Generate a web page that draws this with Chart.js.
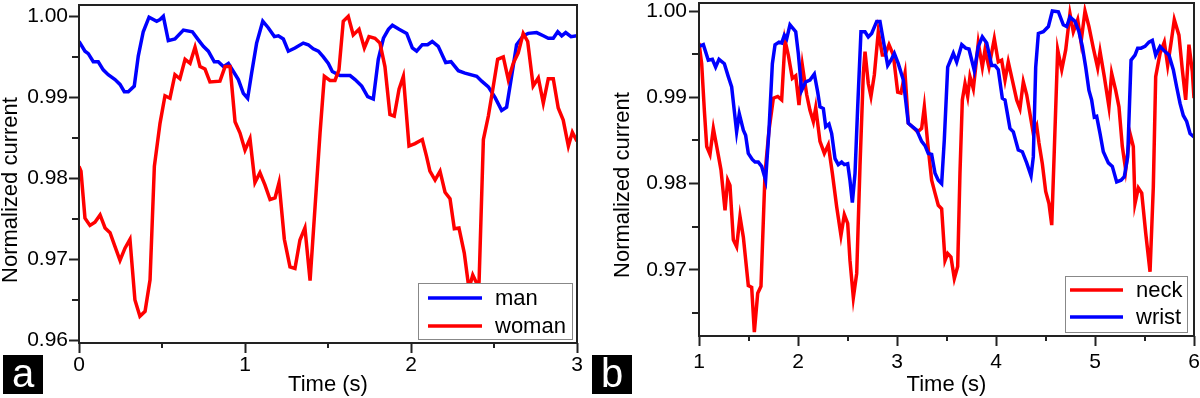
<!DOCTYPE html>
<html>
<head>
<meta charset="utf-8">
<script src="https://cdn.jsdelivr.net/npm/chart.js@4.4.0/dist/chart.umd.min.js"></script>
<style>
  body { margin: 0; background: #fff; width: 1200px; height: 398px; overflow: hidden; position: relative; font-family: "Liberation Sans", Arial, sans-serif; }
  .panel { position: absolute; top: 0; width: 600px; height: 398px; }
  .tag { position: absolute; top: 355px; width: 40px; height: 39px; background: #000; color: #fff; font-size: 40px; line-height: 37px; text-align: center; }
</style>
</head>
<body>
<div class="panel" style="left:0"><canvas id="chartA" width="600" height="398" style="width:600px;height:398px"></canvas></div>
<div class="panel" style="left:600px"><canvas id="chartB" width="600" height="398" style="width:600px;height:398px"></canvas></div>
<div class="tag" style="left:3px">a</div>
<div class="tag" style="left:592px">b</div>
<script>
// ---- panel a : man / woman ----
const manTime = [0, 0.036, 0.056, 0.086, 0.116, 0.146, 0.176, 0.217, 0.247, 0.273, 0.297, 0.333, 0.357, 0.387, 0.422, 0.468, 0.488, 0.508, 0.538, 0.578,
  0.629, 0.683, 0.719, 0.749, 0.779, 0.815, 0.839, 0.870, 0.900, 0.930, 0.960, 0.990, 1.016, 1.040, 1.070, 1.107, 1.140, 1.177, 1.201, 1.231,
  1.261, 1.301, 1.351, 1.381, 1.411, 1.442, 1.472, 1.502, 1.526, 1.572, 1.633, 1.663, 1.703, 1.739, 1.773, 1.803, 1.834, 1.864, 1.888, 1.928,
  1.974, 2.008, 2.034, 2.068, 2.100, 2.128, 2.164, 2.209, 2.241, 2.285, 2.325, 2.396, 2.426, 2.466, 2.506, 2.546, 2.576, 2.606, 2.636, 2.676,
  2.706, 2.757, 2.797, 2.827, 2.857, 2.884, 2.908, 2.932, 2.964, 3.0];
const manCurrent = [0.9969, 0.9957, 0.9954, 0.9944, 0.9944, 0.9934, 0.9928, 0.9922, 0.9916, 0.9907, 0.9907, 0.9914, 0.9951, 0.9981, 0.9999, 0.9994, 0.9996, 1.0000, 0.9970, 0.9972,
  0.9983, 0.9981, 0.9971, 0.9963, 0.9957, 0.9944, 0.9944, 0.9938, 0.9942, 0.9932, 0.9922, 0.9905, 0.9899, 0.9930, 0.9967, 0.9994, 0.9986, 0.9975, 0.9976, 0.9972,
  0.9957, 0.9961, 0.9967, 0.9965, 0.9960, 0.9957, 0.9950, 0.9942, 0.9932, 0.9927, 0.9927, 0.9922, 0.9914, 0.9901, 0.9898, 0.9947, 0.9973, 0.9984, 0.9989, 0.9984,
  0.9979, 0.9961, 0.9957, 0.9965, 0.9965, 0.9969, 0.9963, 0.9943, 0.9944, 0.9933, 0.9930, 0.9926, 0.9920, 0.9913, 0.9900, 0.9884, 0.9888, 0.9926, 0.9965, 0.9976,
  0.9979, 0.9980, 0.9976, 0.9973, 0.9973, 0.9981, 0.9976, 0.9980, 0.9975, 0.9976];

const womanTime = [0, 0.012, 0.036, 0.066, 0.096, 0.127, 0.157, 0.187, 0.217, 0.247, 0.277, 0.307, 0.337, 0.367, 0.398, 0.428, 0.454, 0.488, 0.518, 0.548,
  0.578, 0.608, 0.639, 0.669, 0.699, 0.729, 0.759, 0.789, 0.849, 0.880, 0.910, 0.940, 0.970, 1.000, 1.030, 1.060, 1.090, 1.120, 1.151, 1.181,
  1.205, 1.237, 1.271, 1.301, 1.331, 1.361, 1.392, 1.422, 1.452, 1.478, 1.512, 1.542, 1.566, 1.592, 1.622, 1.652, 1.687, 1.719, 1.747, 1.783,
  1.813, 1.843, 1.873, 1.899, 1.928, 1.954, 1.988, 2.024, 2.068, 2.094, 2.114, 2.145, 2.175, 2.205, 2.235, 2.261, 2.289, 2.321, 2.349, 2.372,
  2.402, 2.410, 2.436, 2.466, 2.496, 2.522, 2.556, 2.586, 2.616, 2.646, 2.676, 2.703, 2.736, 2.767, 2.797, 2.827, 2.857, 2.887, 2.917, 2.948,
  2.972, 3.0];
const womanCurrent = [0.9815, 0.9809, 0.9751, 0.9742, 0.9746, 0.9755, 0.9739, 0.9733, 0.9716, 0.9699, 0.9714, 0.9725, 0.9650, 0.9630, 0.9636, 0.9675, 0.9815, 0.9868, 0.9902, 0.9899,
  0.9928, 0.9923, 0.9947, 0.9942, 0.9962, 0.9938, 0.9935, 0.9919, 0.9920, 0.9938, 0.9938, 0.9870, 0.9856, 0.9835, 0.9849, 0.9795, 0.9807, 0.9792, 0.9774, 0.9776,
  0.9795, 0.9725, 0.9691, 0.9689, 0.9724, 0.9739, 0.9674, 0.9765, 0.9856, 0.9926, 0.9921, 0.9921, 0.9934, 0.9994, 1.0000, 0.9977, 0.9984, 0.9961, 0.9975, 0.9973,
  0.9967, 0.9938, 0.9879, 0.9877, 0.9910, 0.9926, 0.9840, 0.9843, 0.9848, 0.9827, 0.9809, 0.9798, 0.9809, 0.9783, 0.9775, 0.9738, 0.9739, 0.9708, 0.9664, 0.9681,
  0.9668, 0.9672, 0.9848, 0.9877, 0.9914, 0.9947, 0.9950, 0.9922, 0.9942, 0.9955, 0.9979, 0.9969, 0.9914, 0.9924, 0.9893, 0.9923, 0.9923, 0.9887, 0.9872, 0.9840,
  0.9857, 0.9846];

// ---- panel b : neck / wrist ----
const neckTime = [1.000, 1.027, 1.054, 1.078, 1.111, 1.145, 1.179, 1.222, 1.263, 1.290, 1.313, 1.347, 1.380, 1.414, 1.448, 1.498, 1.532, 1.559, 1.593, 1.626,
  1.667, 1.707, 1.751, 1.795, 1.835, 1.869, 1.902, 1.943, 1.977, 2.010, 2.044, 2.088, 2.121, 2.155, 2.179, 2.222, 2.266, 2.306, 2.347, 2.391,
  2.434, 2.468, 2.502, 2.525, 2.559, 2.593, 2.626, 2.660, 2.677, 2.710, 2.737, 2.771, 2.811, 2.852, 2.879, 2.919, 2.963, 3.007, 3.040, 3.081,
  3.114, 3.155, 3.209, 3.249, 3.276, 3.310, 3.350, 3.384, 3.417, 3.451, 3.485, 3.512, 3.545, 3.579, 3.613, 3.636, 3.660, 3.687, 3.714, 3.737,
  3.771, 3.795, 3.821, 3.862, 3.889, 3.929, 3.983, 4.023, 4.057, 4.091, 4.124, 4.165, 4.209, 4.242, 4.276, 4.310, 4.343, 4.377, 4.411, 4.434,
  4.468, 4.502, 4.535, 4.563, 4.589, 4.623, 4.664, 4.704, 4.747, 4.781, 4.825, 4.859, 4.899, 4.939, 4.983, 5.027, 5.051, 5.094, 5.141, 5.168,
  5.209, 5.242, 5.276, 5.310, 5.354, 5.387, 5.404, 5.438, 5.472, 5.513, 5.556, 5.589, 5.613, 5.657, 5.700, 5.734, 5.768, 5.801, 5.848, 5.882,
  5.916, 5.949, 5.983, 6.0];
const neckCurrent = [0.9963, 0.9939, 0.9885, 0.9843, 0.9834, 0.9864, 0.9843, 0.9816, 0.9769, 0.9804, 0.9798, 0.9735, 0.9727, 0.9762, 0.9738, 0.9682, 0.9680, 0.9628, 0.9673, 0.9681,
  0.9812, 0.9862, 0.9899, 0.9901, 0.9897, 0.9966, 0.9949, 0.9922, 0.9925, 0.9891, 0.9937, 0.9903, 0.9885, 0.9872, 0.9888, 0.9849, 0.9835, 0.9845, 0.9812, 0.9773,
  0.9740, 0.9764, 0.9754, 0.9711, 0.9668, 0.9696, 0.9820, 0.9928, 0.9953, 0.9916, 0.9901, 0.9926, 0.9976, 0.9949, 0.9949, 0.9961, 0.9949, 0.9906, 0.9905, 0.9928,
  0.9870, 0.9866, 0.9860, 0.9864, 0.9889, 0.9847, 0.9804, 0.9789, 0.9775, 0.9771, 0.9711, 0.9719, 0.9715, 0.9690, 0.9704, 0.9812, 0.9897, 0.9916, 0.9901, 0.9924,
  0.9910, 0.9935, 0.9963, 0.9935, 0.9955, 0.9935, 0.9968, 0.9941, 0.9943, 0.9920, 0.9941, 0.9920, 0.9897, 0.9887, 0.9918, 0.9903, 0.9881, 0.9858, 0.9867, 0.9847,
  0.9823, 0.9791, 0.9777, 0.9752, 0.9839, 0.9955, 0.9932, 0.9955, 0.9997, 0.9976, 0.9990, 0.9964, 1.0000, 0.9982, 0.9957, 0.9934, 0.9953, 0.9924, 0.9889, 0.9928,
  0.9908, 0.9889, 0.9843, 0.9816, 0.9858, 0.9843, 0.9777, 0.9795, 0.9789, 0.9742, 0.9698, 0.9796, 0.9924, 0.9951, 0.9964, 0.9937, 0.9963, 0.9990, 0.9972, 0.9932,
  0.9897, 0.9961, 0.9930, 0.9899];

const wristTime = [1.000, 1.044, 1.094, 1.135, 1.168, 1.202, 1.256, 1.296, 1.330, 1.380, 1.407, 1.448, 1.471, 1.498, 1.538, 1.566, 1.599, 1.633, 1.673, 1.707,
  1.741, 1.768, 1.808, 1.835, 1.862, 1.886, 1.919, 1.977, 2.003, 2.037, 2.078, 2.121, 2.165, 2.199, 2.222, 2.256, 2.280, 2.313, 2.340, 2.374,
  2.407, 2.441, 2.468, 2.502, 2.525, 2.549, 2.576, 2.603, 2.636, 2.677, 2.710, 2.744, 2.795, 2.828, 2.872, 2.906, 2.939, 2.973, 3.013, 3.064,
  3.114, 3.155, 3.199, 3.249, 3.283, 3.316, 3.350, 3.384, 3.417, 3.451, 3.478, 3.512, 3.569, 3.603, 3.654, 3.694, 3.727, 3.781, 3.822, 3.862,
  3.906, 3.956, 3.990, 4.023, 4.064, 4.091, 4.141, 4.175, 4.225, 4.266, 4.310, 4.354, 4.377, 4.401, 4.428, 4.478, 4.529, 4.569, 4.630, 4.680,
  4.714, 4.747, 4.798, 4.838, 4.872, 4.906, 4.939, 4.966, 4.993, 5.017, 5.051, 5.084, 5.135, 5.175, 5.219, 5.263, 5.296, 5.330, 5.364, 5.404,
  5.431, 5.465, 5.505, 5.545, 5.579, 5.613, 5.657, 5.707, 5.747, 5.791, 5.825, 5.859, 5.892, 5.926, 5.960, 6.0];
const wristCurrent = [0.9959, 0.9961, 0.9943, 0.9944, 0.9935, 0.9944, 0.9939, 0.9924, 0.9912, 0.9860, 0.9881, 0.9862, 0.9856, 0.9835, 0.9828, 0.9825, 0.9825, 0.9820, 0.9804, 0.9862,
  0.9939, 0.9961, 0.9964, 0.9963, 0.9972, 0.9968, 0.9984, 0.9976, 0.9951, 0.9908, 0.9918, 0.9920, 0.9927, 0.9906, 0.9889, 0.9887, 0.9866, 0.9869, 0.9858, 0.9829,
  0.9822, 0.9825, 0.9822, 0.9823, 0.9804, 0.9778, 0.9812, 0.9889, 0.9976, 0.9976, 0.9970, 0.9974, 0.9988, 0.9988, 0.9959, 0.9937, 0.9943, 0.9951, 0.9939, 0.9920,
  0.9870, 0.9866, 0.9862, 0.9849, 0.9844, 0.9835, 0.9834, 0.9812, 0.9804, 0.9800, 0.9851, 0.9935, 0.9951, 0.9941, 0.9961, 0.9957, 0.9956, 0.9931, 0.9959, 0.9970,
  0.9963, 0.9937, 0.9937, 0.9932, 0.9899, 0.9897, 0.9864, 0.9860, 0.9839, 0.9837, 0.9824, 0.9809, 0.9831, 0.9935, 0.9974, 0.9976, 0.9982, 1.0000, 0.9999, 0.9984,
  0.9982, 0.9993, 0.9988, 0.9976, 0.9959, 0.9935, 0.9908, 0.9897, 0.9877, 0.9878, 0.9858, 0.9837, 0.9824, 0.9820, 0.9802, 0.9804, 0.9808, 0.9831, 0.9943, 0.9949,
  0.9957, 0.9957, 0.9959, 0.9964, 0.9966, 0.9949, 0.9959, 0.9953, 0.9949, 0.9932, 0.9912, 0.9893, 0.9879, 0.9872, 0.9858, 0.9854];

// tick values
const xTicksA = [0, 0.5, 1, 1.5, 2, 2.5, 3];
const yTicksA = [0.96, 0.965, 0.97, 0.975, 0.98, 0.985, 0.99, 0.995, 1.0];
const xTicksB = [1, 1.5, 2, 2.5, 3, 3.5, 4, 4.5, 5, 5.5, 6];
const yTicksB = [0.965, 0.97, 0.975, 0.98, 0.985, 0.99, 0.995, 1.0];

const FONT = '"Liberation Sans", Arial, sans-serif';
Chart.defaults.font.family = FONT;
Chart.defaults.color = '#000';

function toPoints(t, v) {
  return t.map((x, i) => ({ x: x, y: v[i] }));
}

const isMajorX = v => Number.isInteger(v);
const isMajorY = v => Math.abs(v * 100 - Math.round(v * 100)) < 1e-6;

// box round the plot + short minor ticks
const framePlugin = {
  id: 'frame',
  afterDraw(chart) {
    const { ctx, chartArea: a, scales } = chart;
    ctx.save();
    ctx.strokeStyle = '#222';
    ctx.lineWidth = 2;
    ctx.strokeRect(a.left, a.top, a.right - a.left, a.bottom - a.top);
    ctx.beginPath();
    scales.x.ticks.forEach(t => {
      if (isMajorX(t.value)) return;
      const px = Math.round(scales.x.getPixelForValue(t.value));
      ctx.moveTo(px, a.bottom); ctx.lineTo(px, a.bottom + 5);
    });
    scales.y.ticks.forEach(t => {
      if (isMajorY(t.value)) return;
      const py = Math.round(scales.y.getPixelForValue(t.value));
      ctx.moveTo(a.left - 7, py); ctx.lineTo(a.left, py);
    });
    ctx.stroke();
    ctx.restore();
  }
};

// legend drawn inside the plot, Origin style
const boxLegend = {
  id: 'boxLegend',
  afterDraw(chart, args, o) {
    const ctx = chart.ctx;
    ctx.save();
    ctx.fillStyle = '#fff';
    ctx.fillRect(o.x, o.y, o.w, o.h);
    ctx.strokeStyle = '#888';
    ctx.lineWidth = 1;
    ctx.strokeRect(o.x + 0.5, o.y + 0.5, o.w, o.h);
    ctx.font = '22px ' + FONT;
    ctx.textBaseline = 'middle';
    chart.data.datasets.forEach((ds, i) => {
      const y = o.rowY[i];
      ctx.strokeStyle = ds.borderColor;
      ctx.lineWidth = 3.5;
      ctx.beginPath();
      ctx.moveTo(o.lineX[0], y);
      ctx.lineTo(o.lineX[1], y);
      ctx.stroke();
      ctx.fillStyle = '#000';
      ctx.fillText(ds.label, o.textX, y + 1);
    });
    ctx.restore();
  }
};

// rotated y title
const yTitle = {
  id: 'yTitle',
  afterDraw(chart, args, o) {
    const ctx = chart.ctx;
    ctx.save();
    ctx.translate(o.x, o.y);
    ctx.rotate(-Math.PI / 2);
    ctx.font = '22px ' + FONT;
    ctx.fillStyle = '#000';
    ctx.textAlign = 'center';
    ctx.textBaseline = 'middle';
    ctx.fillText(o.text, 0, 0);
    ctx.restore();
  }
};

function makeChart(id, datasets, cfg) {
  return new Chart(document.getElementById(id), {
    type: 'line',
    data: { datasets: datasets },
    options: {
      responsive: false,
      animation: false,
      devicePixelRatio: 1,
      layout: { padding: cfg.padding },
      plugins: {
        legend: { display: false },
        tooltip: { enabled: false },
        boxLegend: cfg.legend,
        yTitle: cfg.yTitle
      },
      scales: {
        x: {
          type: 'linear',
          min: cfg.xMin, max: cfg.xMax,
          afterBuildTicks: s => { s.ticks = cfg.xTicks.map(v => ({ value: v })); },
          afterFit: s => { s.height = cfg.xAxisH; s.paddingLeft = 0; s.paddingRight = 0; },
          border: { display: false },
          grid: { drawOnChartArea: false, drawTicks: true, tickLength: 10, tickWidth: 2,
            tickColor: c => isMajorX(c.tick.value) ? '#222' : 'rgba(0,0,0,0)' },
          ticks: { font: { size: 21 }, padding: cfg.xPad, maxRotation: 0, autoSkip: false,
            callback: v => isMajorX(v) ? String(v) : '' },
          title: { display: true, text: 'Time (s)', font: { size: 22 }, padding: 0 }
        },
        y: {
          min: cfg.yMin, max: cfg.yMax,
          afterBuildTicks: s => { s.ticks = cfg.yTicks.map(v => ({ value: v })); },
          afterFit: s => { s.width = cfg.yAxisW; s.paddingTop = 0; s.paddingBottom = 0; },
          border: { display: false },
          grid: { drawOnChartArea: false, drawTicks: true, tickLength: 10, tickWidth: 2,
            tickColor: c => isMajorY(c.tick.value) ? '#222' : 'rgba(0,0,0,0)' },
          ticks: { font: { size: 21 }, padding: cfg.yPad, autoSkip: false,
            callback: v => isMajorY(v) ? v.toFixed(2) : '' }
        }
      }
    },
    plugins: [framePlugin, boxLegend, yTitle]
  });
}

function line(label, t, v, color, order) {
  return { label: label, data: toPoints(t, v), borderColor: color, backgroundColor: color,
    borderWidth: 3.5, pointRadius: 0, tension: 0, fill: false, order: order };
}

makeChart('chartA', [
  line('man', manTime, manCurrent, '#0000ff', 1),
  line('woman', womanTime, womanCurrent, '#ff0000', 0)
], {
  padding: { top: 5, right: 23, left: 0, bottom: 0 },
  xMin: 0, xMax: 3, yMin: 0.9597, yMax: 1.0014,
  xTicks: xTicksA, yTicks: yTicksA, xAxisH: 55, yAxisW: 79, xPad: 0, yPad: 1,
  legend: { x: 418, y: 283, w: 154, h: 56, rowY: [298, 326], lineX: [428, 482], textX: 495 },
  yTitle: { text: 'Normalized current', x: 11, y: 190 }
});

makeChart('chartB', [
  line('neck', neckTime, neckCurrent, '#ff0000', 1),
  line('wrist', wristTime, wristCurrent, '#0000ff', 0)
], {
  padding: { top: 3, right: 6, left: 0, bottom: 0 },
  xMin: 1, xMax: 6, yMin: 0.96235, yMax: 1.00093,
  xTicks: xTicksB, yTicks: yTicksB, xAxisH: 62, yAxisW: 99, xPad: 4, yPad: 2,
  legend: { x: 465, y: 276, w: 122, h: 56, rowY: [290, 317], lineX: [470, 523], textX: 536 },
  yTitle: { text: 'Normalized current', x: 23, y: 185 }
});
</script>
</body>
</html>
